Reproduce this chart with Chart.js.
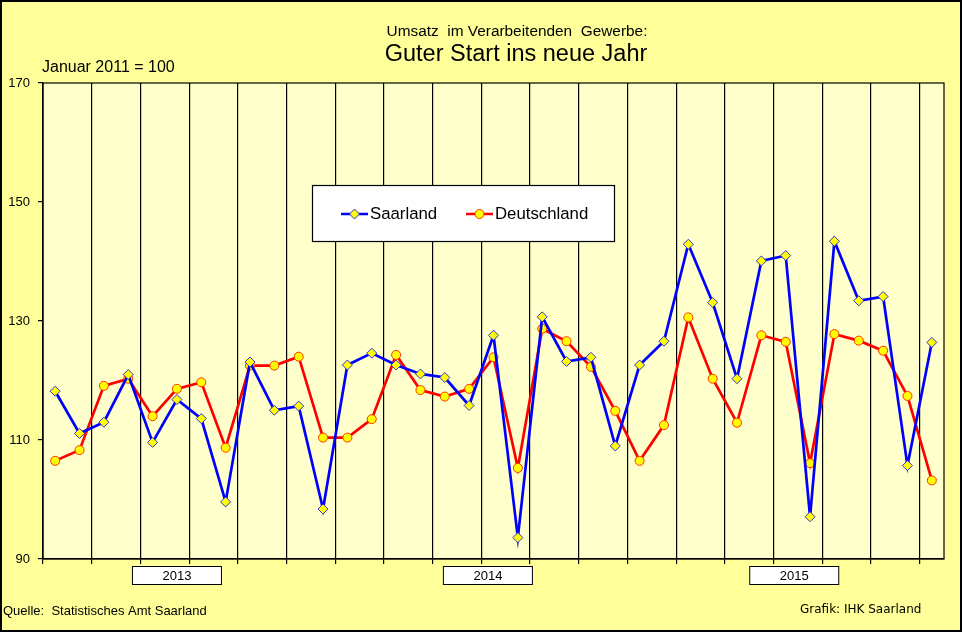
<!DOCTYPE html>
<html>
<head>
<meta charset="utf-8">
<script src="https://cdn.jsdelivr.net/npm/chart.js@4.4.0/dist/chart.umd.min.js"></script>
<style>
  html, body { margin: 0; padding: 0; background: #FFFF99; }
  canvas { display: block; }
</style>
</head>
<body>

<canvas id="umsatzChart" width="962" height="632"></canvas>

<script>
// Monate Jan 2013 bis Jan 2016, Index Januar 2011 = 100
var months = ['01/13','02/13','03/13','04/13','05/13','06/13','07/13','08/13','09/13','10/13','11/13','12/13',
              '01/14','02/14','03/14','04/14','05/14','06/14','07/14','08/14','09/14','10/14','11/14','12/14',
              '01/15','02/15','03/15','04/15','05/15','06/15','07/15','08/15','09/15','10/15','11/15','12/15',
              '01/16'];

var saarland = [118.2, 111.1, 113.0, 121.0, 109.6, 116.8, 113.6, 99.6, 123.1, 115.0, 115.7, 98.4,
                122.6, 124.6, 122.6, 121.1, 120.5, 115.8, 127.6, 93.6, 130.7, 123.2, 123.9, 109.0,
                122.6, 126.6, 142.9, 133.1, 120.3, 140.1, 141.0, 97.1, 143.4, 133.4, 134.1, 105.7,
                126.4];

var deutschland = [106.5, 108.3, 119.1, 120.3, 114.0, 118.6, 119.7, 108.7, 122.5, 122.5, 124.0, 110.4,
                   110.4, 113.5, 124.3, 118.4, 117.3, 118.6, 123.9, 105.3, 128.7, 126.6, 122.3, 114.9,
                   106.5, 112.5, 130.6, 120.3, 112.9, 127.6, 126.5, 106.1, 127.8, 126.7, 125.0, 117.4,
                   103.2];

var years = ['2013', '2014', '2015'];
var yTicks = [90, 110, 130, 150, 170];

// where the year boxes sit, in category units
var yearAt = [5, 17.77, 30.35];

var FONT = '"Liberation Sans", Arial, sans-serif';

var saarStyle = { color: '#0000FF', point: 'rectRot', radius: 5, fill: '#FFFF00', border: '#3333CC' };
var deStyle   = { color: '#FF0000', point: 'circle',  radius: 4.5, fill: '#FFFF00', border: '#FF3300' };

function marker(ctx, st, x, y) {
	var opts = { pointStyle: st.point, radius: st.radius, borderWidth: 1, rotation: 0 };
	ctx.save();
	ctx.fillStyle = st.fill;
	ctx.strokeStyle = st.border;
	ctx.lineWidth = 1;
	if (Chart.helpers && Chart.helpers.drawPoint) {
		Chart.helpers.drawPoint(ctx, opts, x, y);
	} else {
		ctx.beginPath();
		ctx.arc(x, y, st.radius, 0, Math.PI * 2);
		ctx.fill(); ctx.stroke();
	}
	ctx.restore();
}

var decoration = {
	id: 'decoration',
	beforeDraw: function(chart) {
		var ctx = chart.ctx, a = chart.chartArea;
		ctx.save();
		ctx.fillStyle = '#FFFF99';
		ctx.fillRect(0, 0, chart.width, chart.height);
		ctx.fillStyle = '#FFFFCC';
		ctx.fillRect(a.left, a.top, a.right - a.left, a.bottom - a.top);
		ctx.restore();
	},
	afterDraw: function(chart) {
		var ctx = chart.ctx, a = chart.chartArea, xs = chart.scales.x;
		ctx.save();

		// frame of the plot
		ctx.strokeStyle = '#000';
		ctx.lineWidth = 1.2;
		ctx.strokeRect(a.left, a.top, a.right - a.left, a.bottom - a.top);

		// titles
		ctx.fillStyle = '#000';
		ctx.textAlign = 'center';
		ctx.textBaseline = 'middle';
		ctx.font = '15.4px ' + FONT;
		ctx.fillText('Umsatz  im Verarbeitenden  Gewerbe:', 517, 32);
		ctx.font = '23.5px ' + FONT;
		ctx.fillText('Guter Start ins neue Jahr', 516, 55);

		ctx.textAlign = 'left';
		ctx.font = '16px ' + FONT;
		ctx.fillText('Januar 2011 = 100', 42, 68);

		// year boxes under the axis
		ctx.font = '13px ' + FONT;
		ctx.textAlign = 'center';
		years.forEach(function(y, i) {
			var cx = xs.getPixelForValue(yearAt[i]);
			ctx.fillStyle = '#FFFFFF';
			ctx.fillRect(cx - 44.5, 566, 89, 18);
			ctx.strokeStyle = '#000';
			ctx.lineWidth = 1;
			ctx.strokeRect(cx - 44.5, 566.5, 89, 18);
			ctx.fillStyle = '#000';
			ctx.fillText(y, cx, 576);
		});

		// sources
		ctx.textAlign = 'left';
		ctx.fillText('Quelle:  Statistisches Amt Saarland', 3, 611);
		ctx.font = '12px "DejaVu Sans", sans-serif';
		ctx.fillText('Grafik: IHK Saarland', 800, 610);

		// legend
		ctx.fillStyle = '#FFFFFF';
		ctx.fillRect(312.5, 185.5, 302, 56);
		ctx.strokeStyle = '#000';
		ctx.lineWidth = 1.2;
		ctx.strokeRect(312.5, 185.5, 302, 56);
		var items = [
			{ label: 'Saarland', st: saarStyle, x0: 341, x1: 368 },
			{ label: 'Deutschland', st: deStyle, x0: 466, x1: 493 }
		];
		ctx.font = '16.8px ' + FONT;
		items.forEach(function(it) {
			ctx.strokeStyle = it.st.color;
			ctx.lineWidth = 2.5;
			ctx.beginPath();
			ctx.moveTo(it.x0, 214);
			ctx.lineTo(it.x1, 214);
			ctx.stroke();
			marker(ctx, it.st, (it.x0 + it.x1) / 2, 214);
			ctx.fillStyle = '#000';
			ctx.fillText(it.label, it.x1 + 2, 214);
		});

		// outer frame
		ctx.strokeStyle = '#000';
		ctx.lineWidth = 2;
		ctx.strokeRect(1, 1, chart.width - 2, chart.height - 2);
		ctx.restore();
	}
};

new Chart('umsatzChart', {
	type: 'line',
	data: {
		labels: months,
		datasets: [{
			label: 'Saarland',
			data: saarland,
			borderColor: saarStyle.color,
			borderWidth: 2.7,
			pointStyle: saarStyle.point,
			pointRadius: saarStyle.radius,
			pointBackgroundColor: saarStyle.fill,
			pointBorderColor: saarStyle.border,
			pointBorderWidth: 1,
			tension: 0,
			fill: false
		}, {
			label: 'Deutschland',
			data: deutschland,
			borderColor: deStyle.color,
			borderWidth: 2.7,
			pointStyle: deStyle.point,
			pointRadius: deStyle.radius,
			pointBackgroundColor: deStyle.fill,
			pointBorderColor: deStyle.border,
			pointBorderWidth: 1,
			tension: 0,
			fill: false
		}]
	},
	options: {
		responsive: false,
		animation: false,
		layout: { padding: { top: 83, right: 18, bottom: 0, left: 0 } },
		plugins: {
			legend: { display: false },
			title: { display: false },
			tooltip: { enabled: false }
		},
		scales: {
			x: {
				type: 'category',
				offset: true,
				grid: {
					offset: true,
					lineWidth: 1.2,
					color: function(c) { return c.index % 2 === 0 ? '#000' : 'rgba(0,0,0,0)'; },
					tickColor: function(c) { return c.index % 2 === 0 ? '#000' : 'rgba(0,0,0,0)'; },
					tickLength: 5
				},
				border: { display: true, color: '#000', width: 1.2 },
				ticks: { display: false },
				afterFit: function(s) { s.height = 73; }
			},
			y: {
				min: 90,
				max: 170,
				afterBuildTicks: function(s) { s.ticks = yTicks.map(function(v) { return { value: v }; }); },
				grid: { drawOnChartArea: false, drawTicks: true, tickLength: 5, tickColor: '#000', lineWidth: 1.2 },
				border: { display: true, color: '#000', width: 1.2 },
				ticks: { color: '#000', padding: 8, font: { family: FONT, size: 13 } },
				afterFit: function(s) { s.width = 43; }
			}
		}
	},
	plugins: [decoration]
});
</script>

</body>
</html>
